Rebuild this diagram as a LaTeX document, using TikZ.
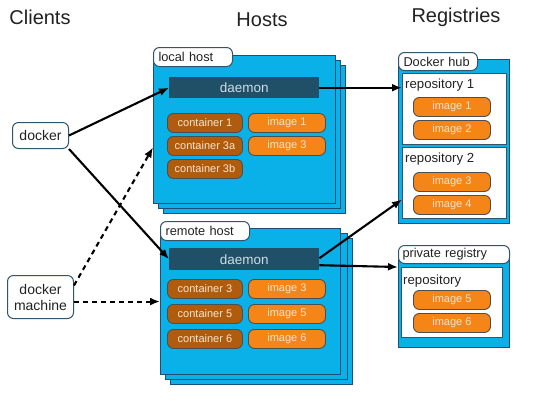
\documentclass[tikz,border=0pt]{standalone}
\usepackage{fontspec}
\setmainfont{Liberation Sans}
\usetikzlibrary{arrows.meta,calc}
\definecolor{dockerblue}{RGB}{10,176,232}
\definecolor{hostedge}{RGB}{28,78,118}
\definecolor{daemonfill}{RGB}{32,79,104}
\definecolor{daemontext}{RGB}{205,222,232}
\definecolor{contfill}{RGB}{176,92,14}
\definecolor{imgfill}{RGB}{245,133,22}
\definecolor{pillborder}{RGB}{78,78,78}
\definecolor{pilltext}{RGB}{248,228,208}
\definecolor{tabedge}{RGB}{50,85,105}
\definecolor{inktext}{RGB}{34,34,34}
\begin{document}
\begin{tikzpicture}[x=1pt,y=-1pt,
  wh/.style 2 args={minimum width=#1,minimum height=#2},
  heading/.style={font=\fontsize{20}{24}\selectfont,text=inktext},
  hostbox/.style={draw=hostedge,fill=dockerblue,line width=1.1pt,anchor=north west,inner sep=0pt},
  regbox/.style={draw=hostedge,fill=dockerblue,line width=1.1pt,anchor=north west,inner sep=0pt},
  tab/.style={draw=tabedge,fill=white,line width=1pt,rounded corners=6pt,anchor=north west,
    inner xsep=5pt,inner ysep=0pt,minimum height=19pt,align=left,
    font=\fontsize{12.8}{14}\selectfont,text=inktext},
  repobox/.style={draw=tabedge,fill=white,line width=0.9pt,anchor=north west,inner sep=0pt},
  repolabel/.style={anchor=west,inner sep=0pt,font=\fontsize{13.2}{15}\selectfont,text=inktext},
  daemonbox/.style={fill=daemonfill,text=daemontext,anchor=north west,inner sep=0pt,
    font=\fontsize{13.5}{15}\selectfont},
  pill/.style={draw=pillborder,line width=0.9pt,rounded corners=6pt,anchor=north west,inner sep=0pt,
    text=pilltext,font=\fontsize{11}{12}\selectfont},
  cont/.style={pill,fill=contfill,wh={75pt}{19pt}},
  img/.style={pill,fill=imgfill,wh={77pt}{19pt}},
  client/.style={draw=tabedge,fill=white,line width=1pt,rounded corners=6pt,anchor=north west,
    inner sep=0pt,align=center,font=\fontsize{14}{16}\selectfont,text=inktext},
  conn/.style={line width=2.1pt,draw=black,-{Latex[length=10pt,width=8pt]}},
  dconn/.style={conn,dash pattern=on 5pt off 4pt}
]
\useasboundingbox[fill=white] (0,0) rectangle (543,400);

% headings
\node[heading] (hc) at (40,17) {Clients};
\node[heading] (hh) at (262,20) {Hosts};
\node[heading] (hr) at (456,17) {Registries};

% local host stack
\node[hostbox,wh={182pt}{148pt}] (lh3) at (163,65) {};
\node[hostbox,wh={182pt}{148pt}] (lh2) at (158,60) {};
\node[hostbox,wh={182pt}{148pt}] (lh) at (153,55) {};
\node[tab,text width=69pt] (lht) at (153,47) {local host};
\node[daemonbox,wh={150pt}{21pt}] (ld) at (169,77) {daemon};
\node[cont] (c1) at (167,113) {container 1};
\node[img] (i1) at (248,113) {image 1};
\node[cont] (c3a) at (167,136) {container 3a};
\node[img] (i3) at (248,136) {image 3};
\node[cont] (c3b) at (167,159) {container 3b};

% remote host stack
\node[hostbox,wh={182pt}{146pt}] (rh3) at (170,238) {};
\node[hostbox,wh={182pt}{146pt}] (rh2) at (165,233) {};
\node[hostbox,wh={180pt}{146pt}] (rh) at (160,228) {};
\node[tab,text width=79pt] (rht) at (160,221) {remote host};
\node[daemonbox,wh={150pt}{22pt}] (rd) at (169,248) {daemon};
\node[cont] (rc3) at (167,279) {container 3};
\node[img] (ri3) at (248,279) {image 3};
\node[cont] (rc5) at (167,304) {container 5};
\node[img] (ri5) at (248,304) {image 5};
\node[cont] (rc6) at (167,329) {container 6};
\node[img] (ri6) at (248,329) {image 6};

% Docker hub
\node[regbox,wh={111pt}{164pt}] (dhb) at (398,59) {};
\node[tab,text width=69pt,minimum height=18pt] (dht) at (398,52) {Docker hub};
\node[repobox,wh={104pt}{71pt}] (repo1) at (402,73) {};
\node[repobox,wh={104pt}{71pt}] (repo2) at (402,147) {};
\node[repolabel] (r1l) at (405,85) {repository 1};
\node[repolabel] (r2l) at (405,159) {repository 2};
\node[img] (hi1) at (413,97) {image 1};
\node[img] (hi2) at (413,120) {image 2};
\node[img] (hi3) at (413,172) {image 3};
\node[img] (hi4) at (413,195) {image 4};

% private registry
\node[regbox,wh={111pt}{95pt}] (prb) at (398,252) {};
\node[tab,text width=103pt,inner xsep=4pt,minimum height=18pt] (prt) at (398,245) {private registry};
\node[repobox,wh={101pt}{70pt}] (prepo) at (401,267) {};
\node[repolabel] (prl) at (403,281) {repository};
\node[img] (pi5) at (413,290) {image 5};
\node[img] (pi6) at (413,313) {image 6};

% clients
\node[client,wh={56pt}{26pt}] (docker) at (12,122) {docker};
\node[client,wh={66pt}{43pt}] (dm) at (7,275) {docker\\machine};

% connectors
\draw[conn] (docker.east) -- (ld.west);
\draw[conn] (docker.south east) -- (rd.west);
\draw[dconn] (dm.19) -- ($(lh.north west)!0.62!(lh.south west)$);
\draw[dconn] (dm.east |- rh.west) -- (rh.west);
\draw[conn] (ld.east) -- (ld.east -| repo1.west);
\draw[conn] ($(rd.east)+(0,-1)$) -- ($(repo2.north west)!0.73!(repo2.south west)$);
\draw[conn] ($(rd.east)+(0,6)$) -- ($(prb.north west)+(0,15)$);
\end{tikzpicture}
\end{document}
